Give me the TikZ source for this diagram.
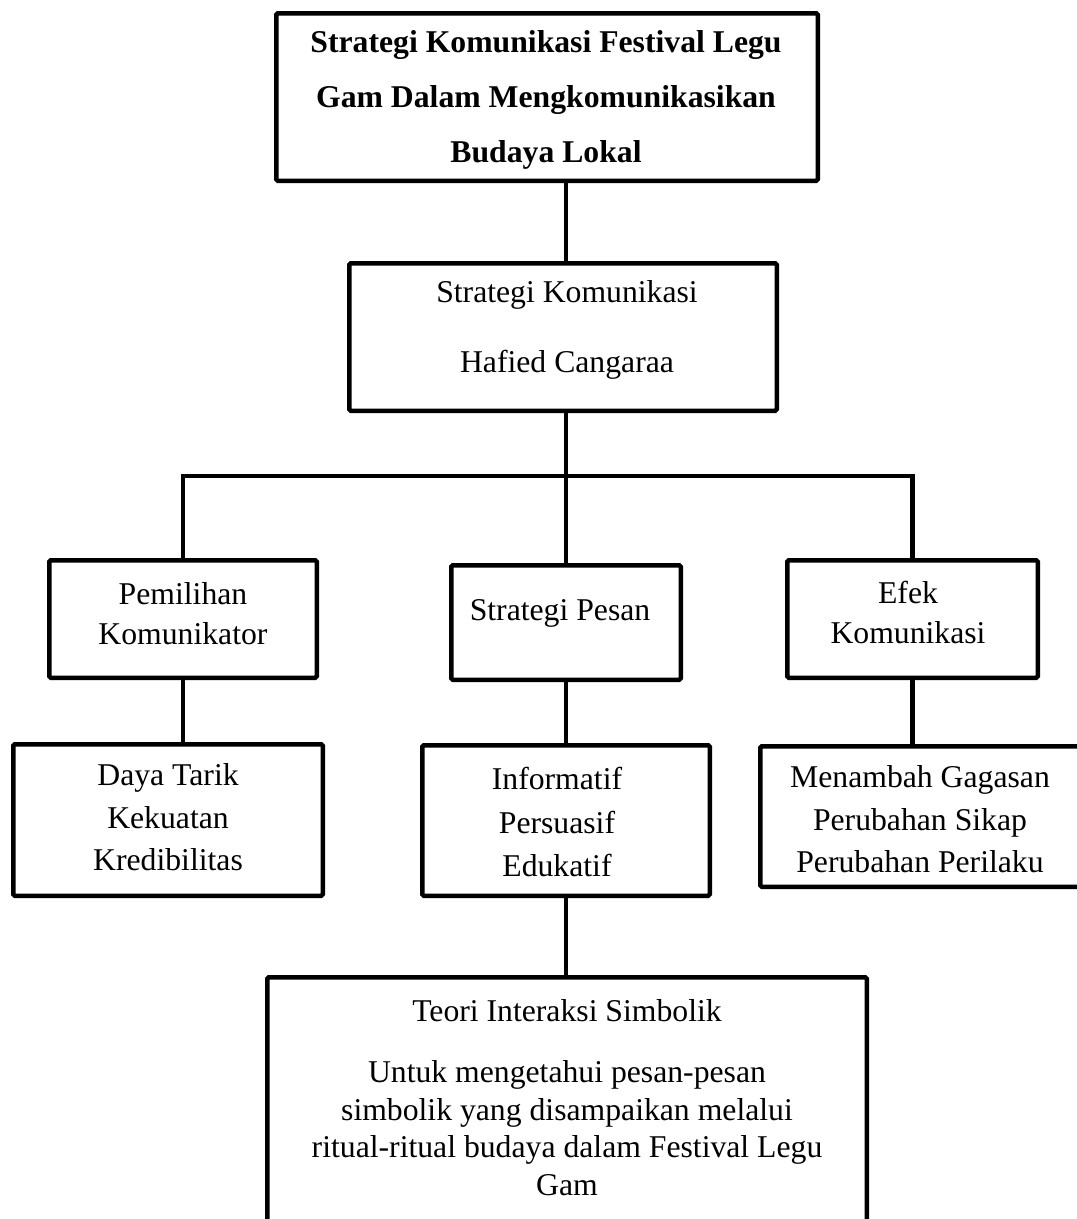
\documentclass[tikz,border=0pt]{standalone}
\usepackage{fontspec}
\setmainfont{Liberation Serif}
\newcommand\myfs[1]{\fontsize{31.7}{#1}\selectfont}
\begin{document}
\begin{tikzpicture}[x=1pt,y=-1pt,
  box/.style={draw, line width=4.5pt, rounded corners=1.5pt, inner sep=0pt},
  conn/.style={line width=4.5pt, line join=miter},
  txt/.style={inner sep=0pt, align=center}]
\useasboundingbox (0,0) rectangle (1077,1219);
\clip (0,0) rectangle (1077,1219);
\fill[white] (0,0) rectangle (1077,1219);

% spine coordinates
\coordinate (sp) at (566,0);
\coordinate (bus) at (0,476);

% boxes
\node[box, minimum width=541.5pt, minimum height=167.5pt] (top) at (547,97) {};
\node[box, minimum width=427.5pt, minimum height=147.5pt] (hc) at (563,337) {};
\node[box, minimum width=267.5pt, minimum height=117.5pt] (pem) at (183,619) {};
\node[box, minimum width=229.5pt, minimum height=114.5pt] (pes) at (566,622.5) {};
\node[box, minimum width=250.5pt, minimum height=117.5pt] (efk) at (912.5,619) {};
\node[box, minimum width=309.5pt, minimum height=151.5pt] (day) at (168,820) {};
\node[box, minimum width=287.5pt, minimum height=150.5pt] (inf) at (566,820.5) {};
\node[box, minimum width=337.5pt, minimum height=140.5pt] (men) at (929,816.5) {};
\node[box, minimum width=599.5pt, minimum height=280.5pt] (teo) at (567,1117.5) {};

% texts
\node[txt, font=\myfs{55}\bfseries] (ttop) at (546,100)
  {Strategi Komunikasi Festival Legu\\Gam Dalam Mengkomunikasikan\\Budaya Lokal};
\node[txt, font=\myfs{70}] (thc) at (567,330) {Strategi Komunikasi\\Hafied Cangaraa};
\node[txt, font=\myfs{40}] (tpem) at (183,614) {Pemilihan\\Komunikator};
\node[txt, font=\myfs{40}] (tpes) at (560,613) {Strategi Pesan};
\node[txt, font=\myfs{40}] (tefk) at (908,612) {Efek\\Komunikasi};
\node[txt, font=\myfs{42.5}] (tday) at (168,817.5) {Daya Tarik\\Kekuatan\\Kredibilitas};
\node[txt, font=\myfs{43.5}] (tinf) at (557,822) {Informatif\\Persuasif\\Edukatif};
\node[txt, font=\myfs{42.5}] (tmen) at (920,819.5) {Menambah Gagasan\\Perubahan Sikap\\Perubahan Perilaku};
\node[txt, font=\myfs{37.5}] (tteo) at (567,1011) {Teori Interaksi Simbolik};
\node[txt, font=\myfs{37.5}] (tuntuk) at (567,1128)
  {Untuk mengetahui pesan-pesan\\simbolik yang disampaikan melalui\\ritual-ritual budaya dalam Festival Legu\\Gam};

% connectors
\draw[conn] (top.south -| sp) -- (hc.north -| sp);
\draw[conn] (hc.south -| sp) -- (pes.north -| sp);
\draw[conn] (pem.north) |- (bus -| efk.north) -- (efk.north);
\draw[conn] (pem.south) -- (pem.south |- day.north);
\draw[conn] (pes.south -| sp) -- (inf.north -| sp);
\draw[conn] (efk.south) -- (efk.south |- men.north);
\draw[conn] (inf.south -| sp) -- (teo.north -| sp);
\end{tikzpicture}
\end{document}
